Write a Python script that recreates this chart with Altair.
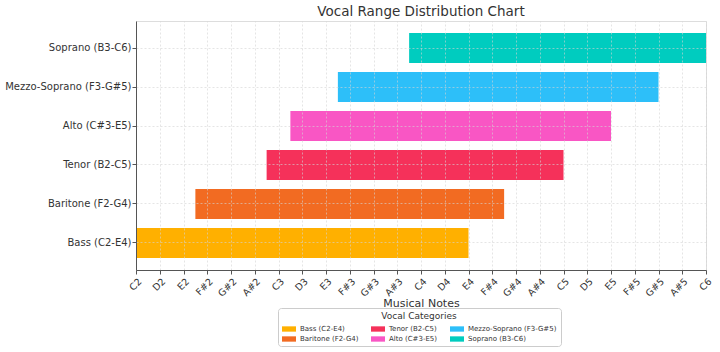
import altair as alt
import pandas as pd

# ---- data ----
categories = ["Bass (C2-E4)", "Baritone (F2-G4)", "Tenor (B2-C5)",
              "Alto (C#3-E5)", "Mezzo-Soprano (F3-G#5)", "Soprano (B3-C6)"]
low_notes = ["C2", "F2", "B2", "C#3", "F3", "B3"]
high_notes = ["E4", "G4", "C5", "E5", "G#5", "C6"]
colors = ["#FFB000", "#F26B22", "#F5315A", "#F956C4", "#2DBFF9", "#00CCBF"]
tick_labels = ["C2", "D2", "E2", "F#2", "G#2", "A#2", "C3", "D3", "E3", "F#3",
               "G#3", "A#3", "C4", "D4", "E4", "F#4", "G#4", "A#4", "C5", "D5",
               "E5", "F#5", "G#5", "A#5", "C6"]

pitch_classes = ["C", "C#", "D", "D#", "E", "F", "F#", "G", "G#", "A", "A#", "B"]


def semitone(note):
    return (int(note[-1]) - 2) * 12 + pitch_classes.index(note[:-1])


df = pd.DataFrame({
    "category": categories,
    "start": [semitone(n) for n in low_notes],
    "end": [semitone(n) for n in high_notes],
})

# legend order column-major like the reference (3 columns, 2 rows)
legend_order = [categories[i] for i in (0, 2, 4, 1, 3, 5)]
legend_colors = [colors[i] for i in (0, 2, 4, 1, 3, 5)]

label_array = "[" + ",".join("'%s'" % t for t in tick_labels) + "]"

chart = alt.Chart(df).mark_bar().encode(
    x=alt.X("start:Q",
            scale=alt.Scale(domain=[0, 48], nice=False, zero=False),
            axis=alt.Axis(values=list(range(0, 49, 2)),
                          labelExpr=label_array + "[datum.value/2]",
                          labelAngle=-45, labelAlign="right", labelBaseline="top",
                          labelFontSize=9.5, labelColor="#333",
                          title="Musical Notes", titleFontSize=11,
                          titleFontWeight="normal", titleColor="#333",
                          titleY=33, titleBaseline="middle",
                          grid=True, gridDash=[2, 2], gridColor="#d4d4d4",
                          gridOpacity=0.6,
                          domainColor="#555", tickColor="#555", tickSize=4,
                          zindex=1)),
    x2="end:Q",
    y=alt.Y("category:N", sort=categories[::-1],
            scale=alt.Scale(paddingInner=0.23, paddingOuter=0.31),
            axis=alt.Axis(title=None, labelFontSize=10, labelColor="#333",
                          labelPadding=1, bandPosition=0.5,
                          grid=True, gridDash=[2, 2], gridColor="#d4d4d4",
                          gridOpacity=0.6,
                          domainColor="#555", tickColor="#555", tickSize=4,
                          zindex=1)),
    color=alt.Color("category:N",
                    scale=alt.Scale(domain=legend_order, range=legend_colors),
                    legend=alt.Legend(title="Vocal Categories", orient="none",
                                      legendX=142, legendY=287, columns=3,
                                      direction="horizontal",
                                      titleAnchor="middle", titleFontSize=9,
                                      titleFontWeight="normal", titleColor="#333",
                                      titlePadding=1,
                                      labelFontSize=7, labelColor="#333",
                                      symbolType="M-1,-0.38H1V0.38H-1Z",
                                      symbolSize=196, symbolStrokeWidth=0,
                                      symbolOpacity=1,
                                      columnPadding=12, rowPadding=0,
                                      labelOffset=4,
                                      strokeColor="#cccccc", fillColor="white",
                                      cornerRadius=3, padding=4)),
).properties(
    width=570, height=249,
    title=alt.TitleParams("Vocal Range Distribution Chart", fontSize=13.5,
                          fontWeight="normal", color="#333", anchor="middle",
                          offset=3),
    padding={"left": 136, "top": 21, "right": 14, "bottom": 82},
    autosize=alt.AutoSizeParams(type="none"),
).configure_view(stroke=None).configure(font="DejaVu Sans")

chart.save("out.html", embed_options={"renderer": "svg", "actions": False})
